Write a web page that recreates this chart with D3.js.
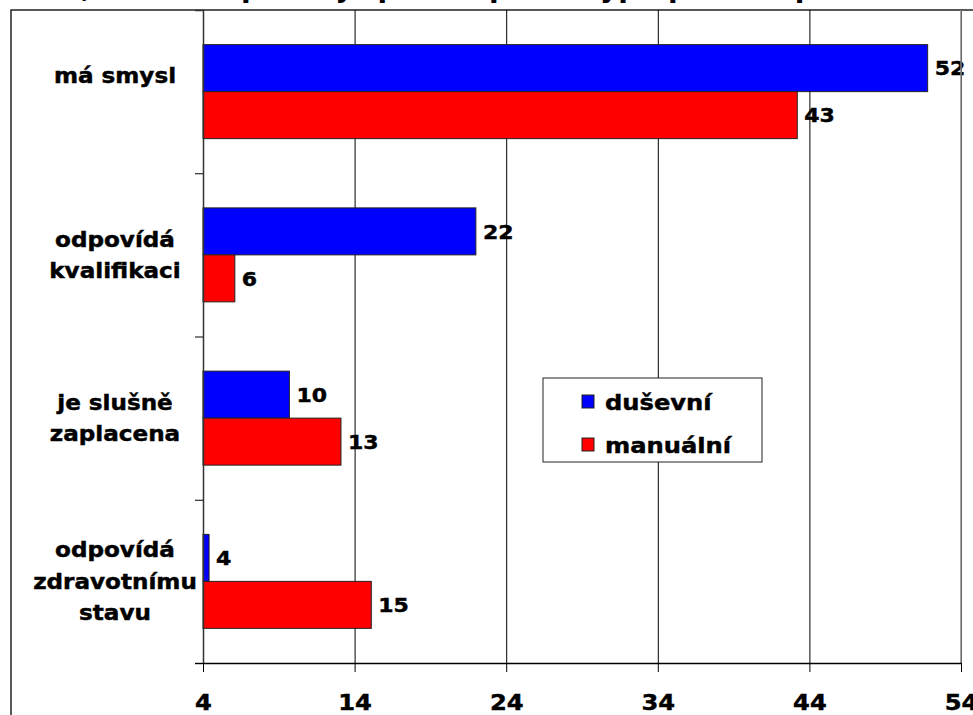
<!DOCTYPE html>
<html>
<head>
<meta charset="utf-8">
<script src="https://cdn.jsdelivr.net/npm/d3@7"></script>
<style>
  body { margin: 0; background: #fff; }
  text { font-family: "DejaVu Sans", Verdana, sans-serif; font-weight: bold; fill: #000; stroke: #000; stroke-width: 0.45px; }
</style>
</head>
<body>
<script>
// Chart data
const categories = ["má smysl", "odpovídá kvalifikaci", "je slušně zaplacena", "odpovídá zdravotnímu stavu"];
const categoryLines = [["má smysl", ""], ["odpovídá", "kvalifikaci"], ["je slušně", "zaplacena"], ["odpovídá", "zdravotnímu", "stavu"]];
const seriesNames = ["duševní", "manuální"];
const dusevni = [51.8, 22, 9.7, 4.4];
const manualni = [43.2, 6.1, 13.1, 15.1];
const xTicks = [4, 14, 24, 34, 44, 54];
const colors = ["#0000ff", "#ff0000"];
const title = "Hodnocení, zda tato práce je pro ně podle typu práce a pohlaví";

const W = 973, H = 715;
const plot = {left: 203, right: 961, top: 10, bottom: 663};
const sx = 1.1; // text in the original is drawn a bit wide

// widen a text horizontally around its anchor x
function stretch(sel, ax) {
    sel.attr("transform", "translate(" + (ax * (1 - sx)) + ",0) scale(" + sx + ",1)");
}

const svg = d3.select("body").append("svg")
    .attr("width", W)
    .attr("height", H);

svg.append("rect")
    .attr("width", W).attr("height", H)
    .attr("fill", "#fff");

// Scales
const x = d3.scaleLinear()
    .domain([4, 54])
    .range([plot.left, plot.right]);

const y = d3.scaleBand()
    .domain(categories)
    .range([plot.top, plot.bottom]);

const ySub = d3.scaleBand()
    .domain(seriesNames)
    .range([0, y.bandwidth()])
    .paddingOuter(0.737);

const yEdge = d3.scaleLinear()
    .domain([0, categories.length])
    .range([plot.top, plot.bottom]);

// Outer chart frame
svg.append("rect")
    .attr("x", 11).attr("y", 10)
    .attr("width", 1000).attr("height", 800)
    .attr("fill", "none")
    .attr("stroke", "#222")
    .attr("stroke-width", 1.5);

// Title (cropped off above the top edge, only descenders show)
const titleText = svg.append("text")
    .attr("y", -3.5)
    .attr("font-size", 28)
    .style("stroke", "none")
    .text(title);
const yIdx = title.indexOf("typu") + 1;
const offset = titleText.node().getStartPositionOfChar(yIdx).x;
titleText.attr("x", 600 - offset);

// Gridlines
svg.append("g")
    .attr("transform", "translate(0," + plot.bottom + ")")
    .call(d3.axisBottom(x).tickValues(xTicks).tickSize(-(plot.bottom - plot.top)).tickFormat(""))
    .call(g => g.select(".domain").remove())
    .call(g => g.selectAll("line").attr("stroke", "#000").attr("stroke-width", 1));

// Bars
const groups = svg.selectAll(".cat")
    .data(categories)
    .enter().append("g")
    .attr("class", "cat")
    .attr("transform", d => "translate(0," + y(d) + ")");

const seriesData = [dusevni, manualni];

groups.each(function(cat, i) {
    const g = d3.select(this);
    seriesNames.forEach((s, j) => {
        const v = seriesData[j][i];
        g.append("rect")
            .attr("x", x(4))
            .attr("y", ySub(s))
            .attr("width", x(v) - x(4))
            .attr("height", ySub.bandwidth())
            .attr("fill", colors[j])
            .attr("stroke", "#222")
            .attr("stroke-width", 1);
        g.append("text")
            .attr("x", x(v) + 7)
            .attr("y", ySub(s) + ySub.bandwidth() / 2)
            .attr("dy", "0.36em")
            .attr("font-size", 20)
            .text(d3.format(".0f")(v))
            .call(stretch, x(v) + 7);
    });
});

// Y axis (category boundaries)
svg.append("g")
    .attr("transform", "translate(" + plot.left + ",0)")
    .call(d3.axisLeft(yEdge).tickValues([1, 2, 3, 4]).tickSize(8).tickFormat(""))
    .call(g => g.select(".domain").attr("stroke", "#333").attr("stroke-width", 1.5))
    .call(g => g.selectAll("line").attr("stroke", "#000"));

// Right plot border
svg.append("line")
    .attr("x1", plot.right).attr("x2", plot.right)
    .attr("y1", plot.top).attr("y2", plot.bottom)
    .attr("stroke", "#888").attr("stroke-width", 1.5);

// X axis
svg.append("g")
    .attr("transform", "translate(0," + plot.bottom + ")")
    .call(d3.axisBottom(x).tickValues(xTicks).tickSize(9).tickSizeOuter(0).tickPadding(22))
    .call(g => g.select(".domain").attr("stroke", "#000").attr("stroke-width", 1.5))
    .call(g => g.selectAll("line").attr("stroke", "#000"))
    .call(g => g.selectAll("text").attr("font-size", 22).attr("font-family", null).call(stretch, 0));

// Category labels
const lineH = 31.5;
const labelX = 115;
svg.selectAll(".catLabel")
    .data(categories)
    .enter().append("text")
    .attr("class", "catLabel")
    .attr("text-anchor", "middle")
    .attr("font-size", 21)
    .call(stretch, labelX)
    .each(function(d, i) {
        const lines = categoryLines[i];
        const cy = y(d) + y.bandwidth() / 2;
        const t = d3.select(this);
        lines.forEach((ln, k) => {
            t.append("tspan")
                .attr("x", labelX)
                .attr("y", cy + (k - (lines.length - 1) / 2) * lineH)
                .attr("dy", "0.36em")
                .text(ln);
        });
    });

// Legend
const legend = svg.append("g");
legend.append("rect")
    .attr("x", 543).attr("y", 378)
    .attr("width", 219).attr("height", 84)
    .attr("fill", "#fff")
    .attr("stroke", "#222")
    .attr("stroke-width", 1);

const legendItems = legend.selectAll(".legend")
    .data(seriesNames)
    .enter().append("g")
    .attr("class", "legend")
    .attr("transform", (d, i) => "translate(0," + (402 + i * 43) + ")");

legendItems.append("rect")
    .attr("x", 582).attr("y", -7)
    .attr("width", 12).attr("height", 13)
    .attr("fill", (d, i) => colors[i])
    .attr("stroke", "#222")
    .attr("stroke-width", 1);

legendItems.append("text")
    .attr("x", 605)
    .attr("dy", "0.36em")
    .attr("font-size", 22)
    .text(d => d)
    .call(stretch, 605);
</script>
</body>
</html>
